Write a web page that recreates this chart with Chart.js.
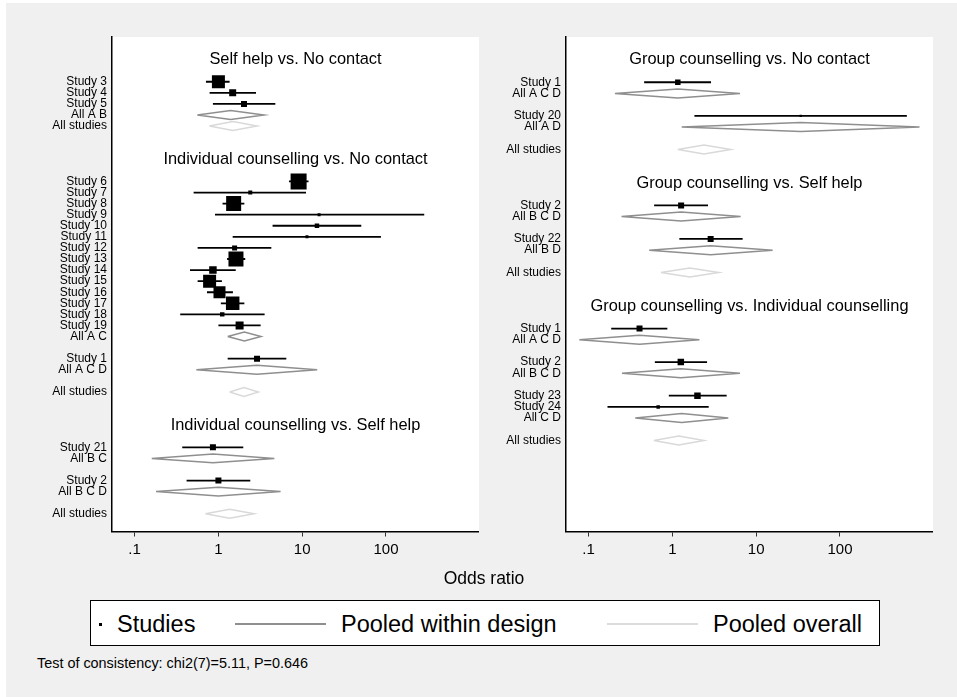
<!DOCTYPE html>
<html>
<head>
<meta charset="utf-8">
<script src="https://cdn.jsdelivr.net/npm/chart.js@4.4.1/dist/chart.umd.min.js"></script>
<style>
  body { margin: 0; background: #fff; font-family: "Liberation Sans", Arial, Helvetica, sans-serif; }
  #bg { position: absolute; left: 6px; top: 3px; width: 951px; height: 694px; background: #f0f0f0; }
  .abs { position: absolute; white-space: nowrap; color: #000; }
  canvas { position: absolute; top: 0; }
</style>
</head>
<body>
<div id="bg"></div>
<canvas id="left" width="479" height="570" style="left:0px"></canvas>
<canvas id="right" width="454" height="570" style="left:479px"></canvas>

<div class="abs" style="left:384px; width:200px; text-align:center; top:570px; font-size:17.5px; line-height:17.5px">Odds ratio</div>

<div class="abs" style="left:90px; top:600px; width:788px; height:44px; border:1px solid #000; background:#fff"></div>
<div class="abs" style="left:99px; top:622.5px; width:3px; height:3px; background:#000"></div>
<div class="abs" style="left:117px; top:612.5px; font-size:23.5px; line-height:23.5px">Studies</div>
<div class="abs" style="left:235px; top:623.2px; width:91px; height:1.6px; background:#8f8f8f"></div>
<div class="abs" style="left:341px; top:612.5px; font-size:23.5px; line-height:23.5px">Pooled within design</div>
<div class="abs" style="left:607px; top:623.2px; width:91px; height:1.6px; background:#dcdcdc"></div>
<div class="abs" style="left:713px; top:612.5px; font-size:23.5px; line-height:23.5px">Pooled overall</div>

<div class="abs" style="left:37px; top:656px; font-size:14.4px; line-height:14.4px">Test of consistency: chi2(7)=5.11, P=0.646</div>

<script>
// left column
const leftTitles = ["Self help vs. No contact", "Individual counselling vs. No contact", "Individual counselling vs. Self help"]
const leftTitleRows = [-2, 7, 31]
const leftLabels = ["Study 3", "Study 4", "Study 5", "All A B", "All studies",
    "Study 6", "Study 7", "Study 8", "Study 9", "Study 10", "Study 11", "Study 12", "Study 13",
    "Study 14", "Study 15", "Study 16", "Study 17", "Study 18", "Study 19", "All A C",
    "Study 1", "All A C D", "All studies",
    "Study 21", "All B C", "Study 2", "All B C D", "All studies"]
const leftRows = [0, 1, 2, 3, 4,
    9, 10, 11, 12, 13, 14, 15, 16, 17, 18, 19, 20, 21, 22, 23,
    25, 26, 28,
    33, 34, 36, 37, 39]
const leftKind = ["s", "s", "s", "d", "o",
    "s", "s", "s", "s", "s", "s", "s", "s", "s", "s", "s", "s", "s", "s", "d",
    "s", "d", "o",
    "s", "d", "s", "d", "o"]
const leftOR = [1.00, 1.48, 2.02, 1.40, 1.49,
    9.06, 2.40, 1.52, 15.9, 15.0, 11.4, 1.56, 1.62, 0.86, 0.785, 1.03, 1.48, 1.11, 1.79, 2.04,
    2.89, 2.89, 2.02,
    0.86, 0.86, 1.00, 1.00, 1.36]
const leftLow = [0.71, 0.785, 0.86, 0.56, 0.78,
    6.95, 0.506, 1.12, 0.91, 4.43, 1.48, 0.565, 1.27, 0.458, 0.565, 0.73, 1.07, 0.35, 1.00, 1.29,
    1.29, 0.545, 1.36,
    0.37, 0.16, 0.417, 0.18, 0.70]
const leftHigh = [1.36, 2.81, 4.78, 3.50, 2.89,
    11.9, 11.1, 2.04, 286, 50.7, 87, 4.28, 2.09, 1.61, 1.10, 1.49, 2.04, 3.56, 3.19, 3.22,
    6.46, 15.1, 2.99,
    1.98, 4.65, 2.40, 5.52, 2.66]
const leftWeight = [169, 49, 36, 0, 0,
    256, 16, 225, 9, 20, 9, 25, 225, 56, 169, 144, 182, 20, 64, 0,
    36, 0, 0,
    36, 0, 36, 0, 0]

// right column
const rightTitles = ["Group counselling vs. No contact", "Group counselling vs. Self help", "Group counselling vs. Individual counselling"]
const rightTitleRows = [-2, 9, 20]
const rightLabels = ["Study 1", "All A C D", "Study 20", "All A D", "All studies",
    "Study 2", "All B C D", "Study 22", "All B D", "All studies",
    "Study 1", "All A C D", "Study 2", "All B C D", "Study 23", "Study 24", "All C D", "All studies"]
const rightRows = [0, 1, 3, 4, 6,
    11, 12, 14, 15, 17,
    22, 23, 25, 26, 28, 29, 30, 32]
const rightKind = ["s", "d", "s", "d", "o",
    "s", "d", "s", "d", "o",
    "s", "d", "s", "d", "s", "s", "d", "o"]
const rightOR = [1.16, 1.16, 34, 34, 2.38,
    1.27, 1.27, 2.86, 2.86, 1.61,
    0.405, 0.405, 1.26, 1.26, 1.99, 0.676, 1.29, 1.19]
const rightLow = [0.46, 0.206, 1.83, 1.29, 1.16,
    0.605, 0.247, 1.21, 0.528, 0.73,
    0.186, 0.0775, 0.617, 0.25, 0.906, 0.168, 0.36, 0.60]
const rightHigh = [2.89, 6.4, 628, 889, 4.96,
    2.66, 6.52, 6.89, 15.7, 3.57,
    0.87, 2.10, 2.59, 6.4, 4.44, 2.71, 4.64, 2.38]
const rightWeight = [30, 0, 5, 0, 0,
    36, 0, 36, 0, 0,
    36, 0, 42, 0, 42, 12, 0, 0]

const xTicks = [0.1, 1, 10, 100]
const xTickLabels = [".1", "1", "10", "100"]

Chart.defaults.font.family = '"Liberation Sans", Arial, Helvetica, sans-serif'
Chart.defaults.color = "#000"

const plotBackground = {
    id: "plotBackground",
    beforeDraw(chart) {
        const {ctx, chartArea: {left, top, width, height}} = chart
        ctx.save()
        ctx.fillStyle = "#fff"
        ctx.fillRect(left, top, width, height)
        ctx.restore()
    }
}

const panelTitles = {
    id: "panelTitles",
    afterDatasetsDraw(chart, args, options) {
        const {ctx, chartArea, scales: {y}} = chart
        ctx.save()
        ctx.font = '16.4px "Liberation Sans", Arial, sans-serif'
        ctx.fillStyle = "#000"
        ctx.textAlign = "center"
        ctx.textBaseline = "middle"
        const cx = (chartArea.left + chartArea.right) / 2
        options.titles.forEach((t, i) => {
            ctx.fillText(t, cx, y.getPixelForValue(options.rows[i]))
        })
        ctx.restore()
    }
}

function makePanel(canvasId, p) {
    const dh = 0.4
    const datasets = []
    const squares = []
    const sizes = []
    p.rows.forEach((r, i) => {
        if (p.kind[i] === "s") {
            datasets.push({
                data: [{x: p.low[i], y: r}, {x: p.high[i], y: r}],
                showLine: true, borderColor: "#000", borderWidth: 1.8, pointRadius: 0
            })
            squares.push({x: p.or[i], y: r})
            sizes.push(Math.sqrt(p.weight[i]) / Math.SQRT2)
        } else {
            datasets.push({
                data: [{x: p.low[i], y: r}, {x: p.or[i], y: r - dh}, {x: p.high[i], y: r},
                       {x: p.or[i], y: r + dh}, {x: p.low[i], y: r}],
                showLine: true, fill: false,
                borderColor: p.kind[i] === "d" ? "#8f8f8f" : "#d9d9d9",
                borderWidth: 1.5, pointRadius: 0
            })
        }
    })
    datasets.push({
        data: squares, pointStyle: "rect", pointRadius: sizes,
        backgroundColor: "#000", borderWidth: 0
    })

    const labelAt = {}
    p.rows.forEach((r, i) => { labelAt[r] = p.labels[i] })

    return new Chart(document.getElementById(canvasId), {
        type: "scatter",
        data: {datasets: datasets},
        options: {
            responsive: false,
            animation: false,
            events: [],
            layout: {autoPadding: false, padding: {top: 37, left: 0, right: 0, bottom: 0}},
            scales: {
                x: {
                    type: "logarithmic",
                    min: Math.pow(10, -1.27),
                    max: Math.pow(10, 3.11),
                    bounds: "data",
                    afterBuildTicks: s => { s.ticks = xTicks.map(v => ({value: v})) },
                    afterFit: s => { s.height = 570 - 531.5 },
                    grid: {display: true, drawOnChartArea: false, drawTicks: true, tickLength: 5, color: "#333", lineWidth: 1},
                    border: {display: true, color: "#000", width: 1.5},
                    ticks: {
                        autoSkip: false, maxRotation: 0, padding: 4,
                        font: {size: 15},
                        callback: v => xTickLabels[xTicks.indexOf(v)]
                    }
                },
                y: {
                    type: "linear",
                    reverse: true,
                    min: -4.04,
                    max: p.yMax,
                    bounds: "data",
                    afterBuildTicks: s => { s.ticks = p.rows.map(v => ({value: v})) },
                    afterFit: s => { s.width = p.axisWidth },
                    grid: {display: false, drawTicks: false},
                    border: {display: true, color: "#000", width: 1.5},
                    ticks: {
                        autoSkip: false, padding: 5,
                        font: {size: 12},
                        callback: v => labelAt[v]
                    }
                }
            },
            plugins: {
                legend: {display: false},
                tooltip: {enabled: false},
                panelTitles: {titles: p.titles, rows: p.titleRows}
            }
        },
        plugins: [plotBackground, panelTitles]
    })
}

makePanel("left", {
    titles: leftTitles, titleRows: leftTitleRows, labels: leftLabels, rows: leftRows,
    kind: leftKind, or: leftOR, low: leftLow, high: leftHigh, weight: leftWeight,
    yMax: 40.6, axisWidth: 112
})
makePanel("right", {
    titles: rightTitles, titleRows: rightTitleRows, labels: rightLabels, rows: rightRows,
    kind: rightKind, or: rightOR, low: rightLow, high: rightHigh, weight: rightWeight,
    yMax: 40.13, axisWidth: 87
})
</script>
</body>
</html>
